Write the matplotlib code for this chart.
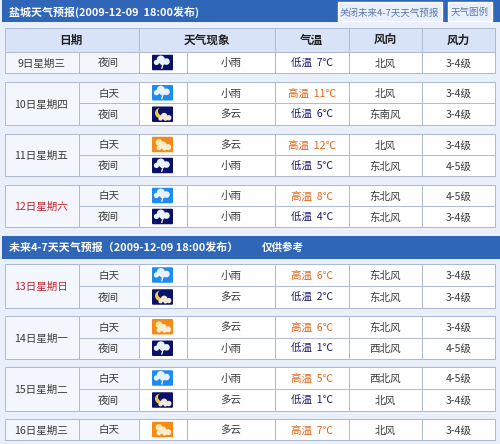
import matplotlib
matplotlib.use("Agg")
import matplotlib.pyplot as plt
from matplotlib.patches import Rectangle, FancyBboxPatch, Circle

plt.rcParams['font.family'] = ['Noto Sans CJK SC', 'DejaVu Sans']

title_top = "盐城天气预报(2009-12-09  18:00发布)"
title_mid = "未来4-7天天气预报（2009-12-09 18:00发布）"
title_note = "仅供参考"
btn_labels = ["关闭未来4-7天天气预报", "天气图例"]
head_labels = ["日期", "天气现象", "气温", "风向", "风力"]

day_labels = ["9日星期三", "10日星期四", "11日星期五", "12日星期六",
              "13日星期日", "14日星期一", "15日星期二", "16日星期三"]
day_weekend = [False, False, False, True, True, False, False, False]
periods = [["夜间"], ["白天", "夜间"], ["白天", "夜间"], ["白天", "夜间"],
           ["白天", "夜间"], ["白天", "夜间"], ["白天", "夜间"], ["白天"]]
weather = [["小雨"], ["小雨", "多云"], ["多云", "小雨"], ["小雨", "小雨"],
           ["小雨", "多云"], ["多云", "小雨"], ["小雨", "多云"], ["多云"]]
temps = [[7], [11, 6], [12, 5], [8, 4], [6, 2], [6, 1], [5, 1], [7]]
wind_dir = [["北风"], ["北风", "东南风"], ["北风", "东北风"], ["东北风", "东北风"],
            ["东北风", "东北风"], ["东北风", "西北风"], ["西北风", "北风"], ["北风"]]
wind_force = [["3-4级"], ["3-4级", "3-4级"], ["3-4级", "4-5级"], ["4-5级", "3-4级"],
              ["3-4级", "3-4级"], ["3-4级", "4-5级"], ["4-5级", "3-4级"], ["3-4级"]]
block_tops = [52, 82, 134, 185, 264, 316, 367, 419]
block_bottoms = [73, 125, 176, 227, 308, 359, 411, 440]

BG = "#e9f0fb"
BLUE = "#2f66b8"
HEAD = "#d8e3f8"
LINE = "#aebad2"
DAYCELL = "#f3f6fc"
TXT = "#3a3a3a"
HIGH = "#e0661c"
LOW = "#1c1c70"
RED = "#c4222c"
DY = 0.9

fig = plt.figure(figsize=(5, 4.44), dpi=100, facecolor=BG)
ax = fig.add_axes([0, 0, 1, 1])
ax.set_xlim(0, 500)
ax.set_ylim(444, 0)
ax.axis("off")

X = [5, 79, 138.5, 187, 275, 349, 422, 495]

def rect(x0, y0, x1, y1, fc, ec="none", lw=0.8, z=1):
    ax.add_patch(Rectangle((x0, y0), x1 - x0, y1 - y0, fc=fc, ec=ec, lw=lw, zorder=z))

def hline(y, x0, x1):
    ax.plot([x0, x1], [y, y], color=LINE, lw=0.7, zorder=3, solid_capstyle="butt")

def vline(x, y0, y1):
    ax.plot([x, x], [y0, y1], color=LINE, lw=0.7, zorder=3, solid_capstyle="butt")

def txt(x, y, s, size=8.2, color=TXT, weight="normal", ha="center"):
    ax.text(x, y + DY, s, fontsize=size, color=color, fontweight=weight,
            ha=ha, va="center", zorder=5)

def cloud(cx, cy, color, s=1.0):
    for dx, dy, r in [(-5.5, 1.4, 2.4), (-1.5, -1.2, 3.7), (3.6, 0.6, 3), (0, 1.8, 2.2)]:
        ax.add_patch(Circle((cx + dx * s, cy + dy * s), r * s, fc=color, ec="none", zorder=7))

def icon(name, period, yc):
    x0, x1, h = 152, 173, 15.5
    cx = (x0 + x1) / 2
    if name == "小雨":
        col = "#1d8cf0" if period == "白天" else "#0c1168"
    else:
        col = "#f58b16" if period == "白天" else "#0c1168"
    ax.add_patch(FancyBboxPatch((x0 + 1, yc - h / 2 + 1), x1 - x0 - 2, h - 2,
                                boxstyle="round,pad=1", fc=col, ec="none", zorder=6))
    if name == "小雨":
        cloud(cx, yc - 1.6, "#e9f2fb", 1.1)
        ax.plot([cx, cx - 0.7], [yc + 3.4, yc + 5.8], color="#ffffff", lw=0.9, zorder=7)
    elif period == "白天":
        ax.add_patch(Circle((cx - 3.5, yc - 2), 3.4, fc="#ffe9a8", ec="none", zorder=7))
        cloud(cx + 2, yc + 2, "#fbeed2", 1.0)
    else:
        ax.add_patch(Circle((cx - 2.5, yc - 1.2), 5, fc="#f0c644", ec="none", zorder=7))
        ax.add_patch(Circle((cx - 0.3, yc - 3), 4.2, fc=col, ec="none", zorder=7))
        cloud(cx + 3, yc + 3, "#efe9dc", 0.9)

# title bars
rect(2, 0, 500, 22.5, BLUE)
txt(9, 11, title_top, size=7.9, color="white", weight="bold", ha="left")
rect(2, 236, 500, 259, BLUE)
txt(9, 247, title_mid, size=7.9, color="white", weight="bold", ha="left")
txt(262, 247, title_note, size=7.6, color="white", weight="bold", ha="left")

# buttons
rect(337.5, 2.5, 441.5, 21.5, "#e9f0fc", "white", 1.0, 2)
txt(389.5, 12, btn_labels[0], size=6.8, color="#5a78a8")
rect(447.5, 2.5, 491.5, 21.5, "#e9f0fc", "white", 1.0, 2)
txt(469.5, 11, btn_labels[1], size=6.8, color="#5a78a8")

# header row
rect(X[0], 28, X[7], 52, HEAD, LINE, 0.7, 2)
for i in [2, 4, 5, 6]:
    vline(X[i], 28, 52)
head_x = [(X[0] + X[2]) / 2 - 0.5, (X[2] + X[4]) / 2, (X[4] + X[5]) / 2, (X[5] + X[6]) / 2, (X[6] + X[7]) / 2]
for xc, lab in zip(head_x, head_labels):
    txt(xc, 39.5, lab, size=8.4, color="#222222", weight="bold")

# day blocks
for k, lab in enumerate(day_labels):
    top, bot = block_tops[k], block_bottoms[k]
    rect(X[0], top, X[7], bot, "white", LINE, 0.7, 2)
    rect(X[0], top, X[2], bot, DAYCELL, "none", 0, 2.5)
    for i in range(1, 7):
        vline(X[i], top, bot)
    hline(top, X[0], X[7]); hline(bot, X[0], X[7]); vline(X[0], top, bot); vline(X[7], top, bot)
    n = len(periods[k])
    rh = (bot - top) / n
    txt((X[0] + X[1]) / 2 - 1, (top + bot) / 2, lab, size=7.6,
        color=RED if day_weekend[k] else TXT)
    for j in range(n):
        yc = top + rh * (j + 0.5)
        if j:
            hline(top + rh * j, X[1], X[7])
        p = periods[k][j]
        txt((X[1] + X[2]) / 2, yc, p, size=7.6)
        icon(weather[k][j], p, yc)
        txt(231, yc, weather[k][j], size=7.6)
        is_high = p == "白天"
        col = HIGH if is_high else LOW
        txt(312, yc, f"{'高温' if is_high else '低温'}  {temps[k][j]}℃", size=7.6, color=col)
        txt(385.5, yc, wind_dir[k][j], size=7.6)
        txt(458.5, yc, wind_force[k][j], size=7.6)

fig.savefig("out.png", dpi=100, facecolor=BG)
